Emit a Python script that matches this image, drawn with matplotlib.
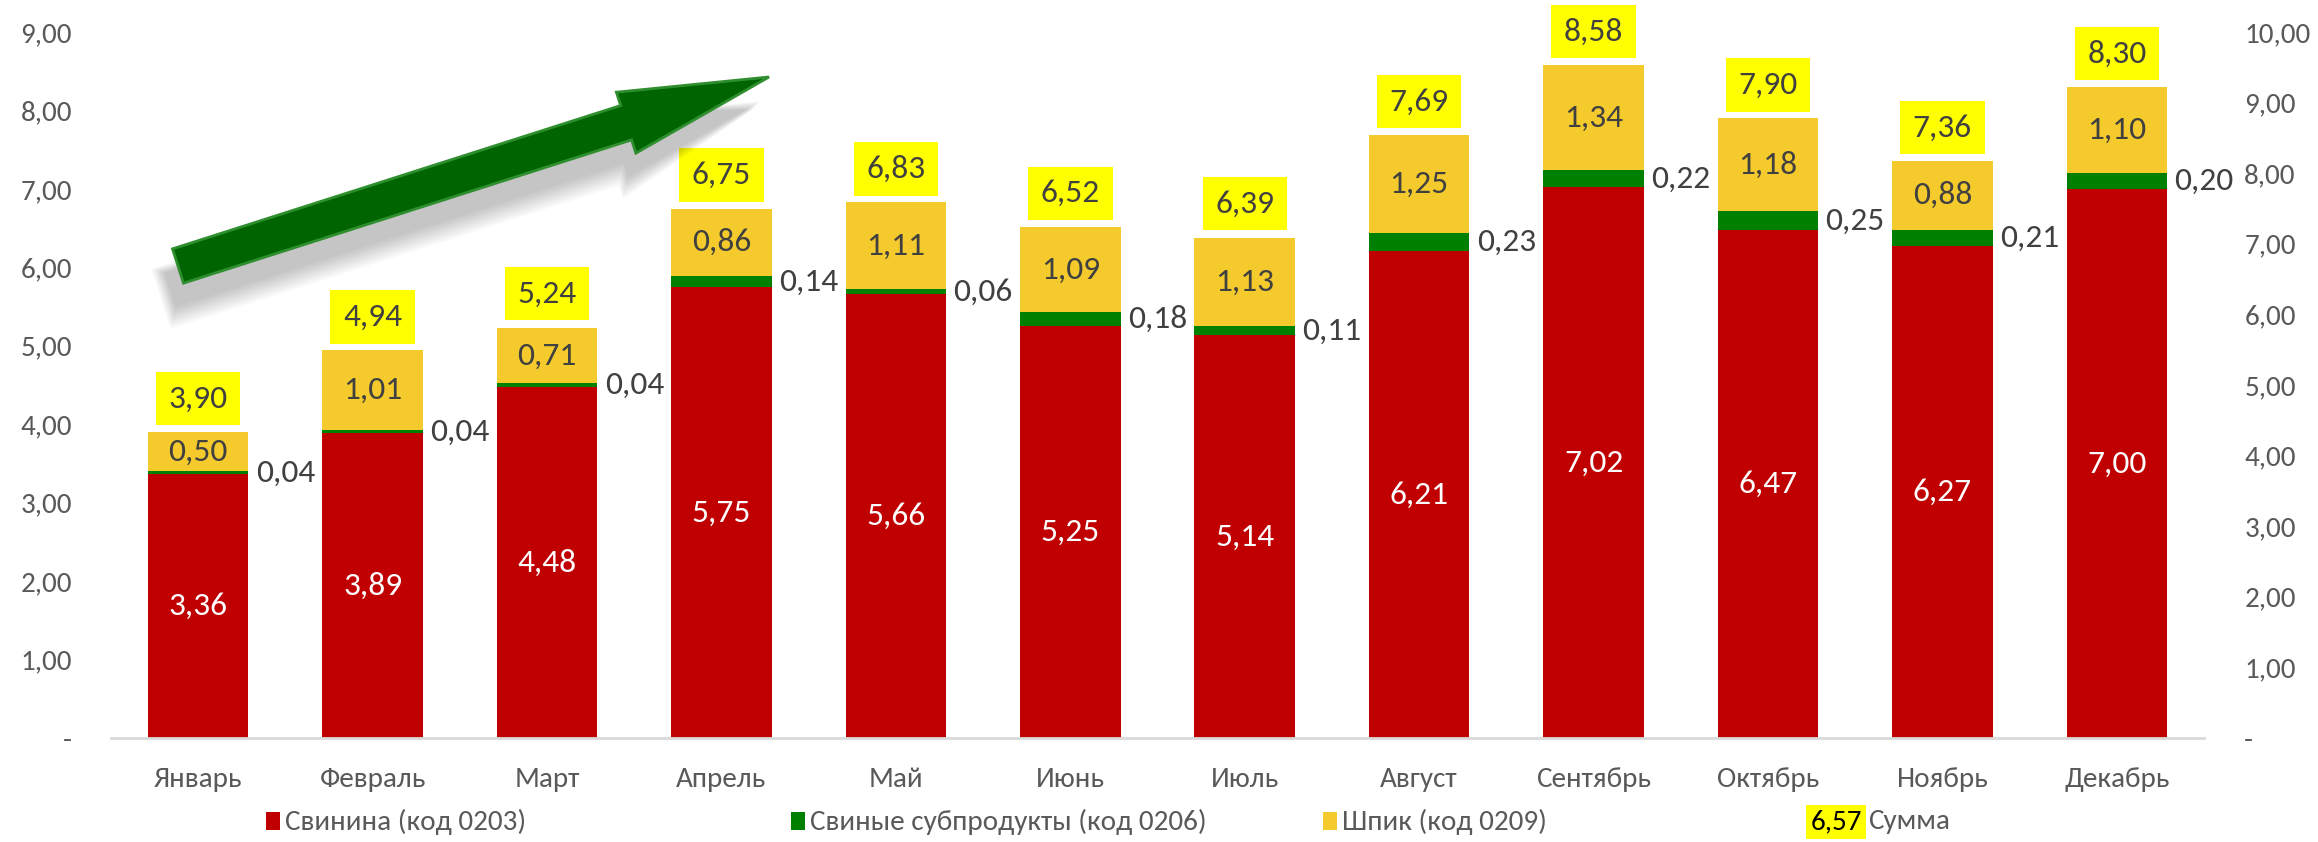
import numpy as np
import matplotlib.pyplot as plt
from matplotlib import font_manager
from matplotlib.patches import Rectangle, FancyArrow
from matplotlib.transforms import Affine2D

months = ['Январь', 'Февраль', 'Март', 'Апрель', 'Май', 'Июнь',
          'Июль', 'Август', 'Сентябрь', 'Октябрь', 'Ноябрь', 'Декабрь']
pork = [3.36, 3.89, 4.48, 5.75, 5.66, 5.25, 5.14, 6.21, 7.02, 6.47, 6.27, 7.00]
offal = [0.04, 0.04, 0.04, 0.14, 0.06, 0.18, 0.11, 0.23, 0.22, 0.25, 0.21, 0.20]
fat = [0.50, 1.01, 0.71, 0.86, 1.11, 1.09, 1.13, 1.25, 1.34, 1.18, 0.88, 1.10]
total = [3.90, 4.94, 5.24, 6.75, 6.83, 6.52, 6.39, 7.69, 8.58, 7.90, 7.36, 8.30]
series_names = ['Свинина (код 0203)', 'Свиные субпродукты (код 0206)', 'Шпик (код 0209)', 'Сумма']

# Calibri-like font if available
names = {f.name for f in font_manager.fontManager.ttflist}
fam = 'Liberation Sans'
for cand in ['Carlito', 'PT Sans Narrow', 'Roboto Condensed', 'Liberation Sans Narrow']:
    if cand in names:
        fam = cand
        break
plt.rcParams['font.family'] = [fam, 'DejaVu Sans']

RED, GREEN, YEL, SUMY = '#C00000', '#008000', '#F4CA2C', '#FFFF00'
TXT, TICK = '#404040', '#595959'

W, H, DPI = 2318, 842, 100
fig = plt.figure(figsize=(W / DPI, H / DPI), dpi=DPI)
ax = fig.add_axes([111 / W, 1 - 738 / H, (2204 - 111) / W, (738 - 32) / H])
ax2 = ax.twinx()

x = np.arange(len(months))
bw = 0.576
b1 = np.array(pork)
b2 = b1 + np.array(offal)
ax.bar(x, pork, bw, color=RED, edgecolor='none', zorder=2)
ax.bar(x, offal, bw, bottom=b1, color=GREEN, edgecolor='none', zorder=2)
ax.bar(x, fat, bw, bottom=b2, color=YEL, edgecolor='none', zorder=2)

ax.set_xlim(-0.5, len(months) - 0.5)
ax.set_ylim(0, 9)
ax2.set_ylim(0, 10)

def fmt(v):
    return '-' if v == 0 else f'{v:.2f}'.replace('.', ',')

ax.set_yticks(np.arange(0, 10))
ax.set_yticklabels([fmt(v) for v in np.arange(0, 10)])
ax2.set_yticks(np.arange(0, 11))
ax2.set_yticklabels([fmt(v) for v in np.arange(0, 11)])
ax.set_xticks(x)
ax.set_xticklabels(months)

TS = 21
for a in (ax, ax2):
    for s in a.spines.values():
        s.set_visible(False)
    a.tick_params(length=0, labelsize=TS, labelcolor=TICK)
ax.spines['bottom'].set_visible(True)
ax.spines['bottom'].set_color('#D9D9D9')
ax.spines['bottom'].set_linewidth(2)
ax.tick_params(axis='x', pad=21)
ax.tick_params(axis='y', pad=28)
ax2.tick_params(axis='y', pad=29)

LS = 24
for i in x:
    ax.text(i, pork[i] / 2, fmt(pork[i]), ha='center', va='center', color='white', fontsize=LS, zorder=3)
    ax.text(i, b2[i] + fat[i] / 2, fmt(fat[i]), ha='center', va='center', color=TXT, fontsize=LS, zorder=3)
    ax.text(i + 0.5, b1[i] + offal[i] / 2, fmt(offal[i]), ha='center', va='center', color=TXT, fontsize=LS, zorder=3)
    ax.annotate(fmt(total[i]), (i, total[i]), xytext=(0, 24), textcoords='offset points',
                ha='center', va='center', color=TXT, fontsize=LS, zorder=4,
                bbox=dict(boxstyle='square,pad=0.38', fc=SUMY, ec='none'))

# arrow (pixel coords from top-left)
px = Affine2D().scale(1 / DPI) + fig.dpi_scale_trans
tail = (178, 842 - 266)
tip = (769, 842 - 77)
dx, dy = tip[0] - tail[0], tip[1] - tail[1]
for k in range(10):
    sh = FancyArrow(tail[0] - 8 - k, tail[1] - 24 - k, dx, dy, width=36 + 3 * k, head_width=64 + 3 * k,
                    head_length=150, length_includes_head=True, transform=px,
                    fc='black', ec='none', alpha=0.025)
    fig.patches.append(sh)
arr = FancyArrow(tail[0], tail[1], dx, dy, width=36, head_width=64, head_length=150,
                 length_includes_head=True, transform=px, fc='#006400', ec='#2F8F2F', lw=2)
fig.patches.append(arr)

# legend
ly = 1 - 822 / H
items = [(266, RED), (791, GREEN), (1323, YEL)]
for (lx, c), name in zip(items, series_names[:3]):
    fig.patches.append(Rectangle((lx / W, ly - 8 / H), 14 / W, 18 / H, transform=fig.transFigure,
                                 fc=c, ec='none'))
    fig.text((lx + 19) / W, ly, name, ha='left', va='center', fontsize=TS, color=TICK)
fig.text(1836 / W, ly, '6,57', ha='center', va='center', fontsize=TS, color='black',
         bbox=dict(boxstyle='square,pad=0.15', fc=SUMY, ec='none'))
fig.text(1868 / W, ly, series_names[3], ha='left', va='center', fontsize=TS, color=TICK)

fig.savefig('out.png', dpi=DPI)
